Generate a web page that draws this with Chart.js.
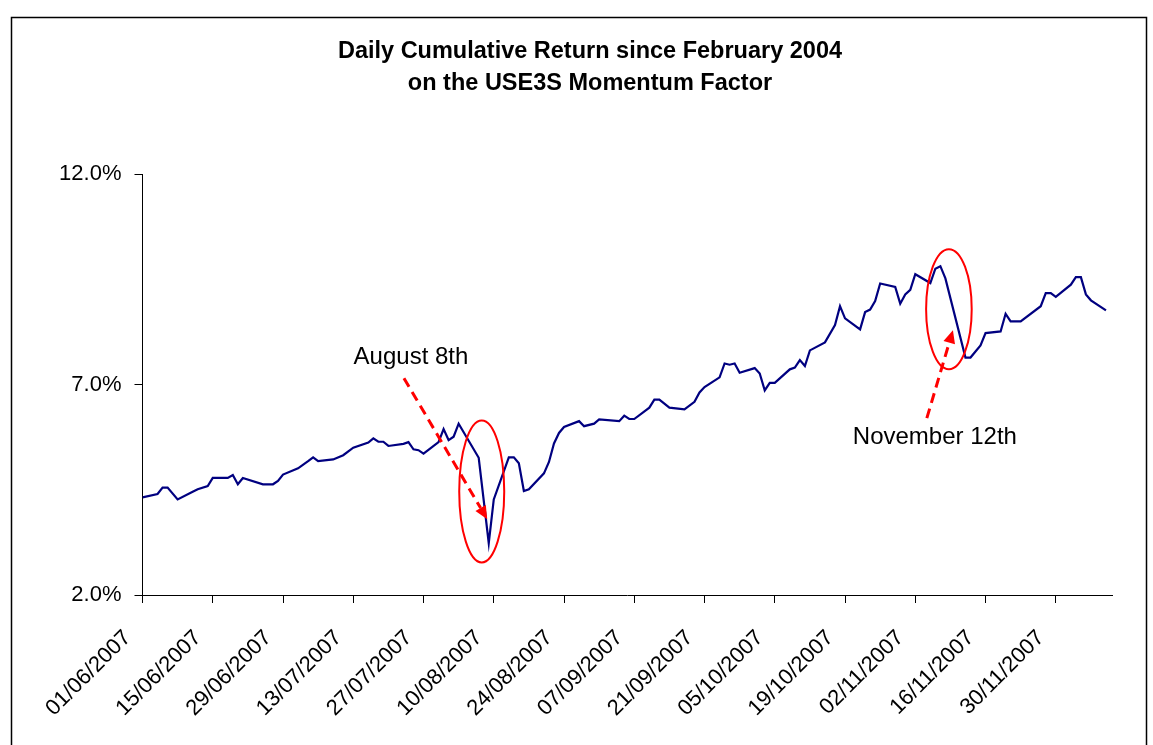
<!DOCTYPE html>
<html>
<head>
<meta charset="utf-8">
<script src="https://cdn.jsdelivr.net/npm/chart.js@4.4.1/dist/chart.umd.min.js"></script>
<style>
  html, body { margin: 0; padding: 0; background: #fff; }
  #wrap { width: 1153px; height: 745px; position: relative; }
</style>
</head>
<body>
<div id="wrap"><canvas id="c" width="1153" height="745"></canvas></div>
<script>
// ---- data (x = calendar days since 01/06/2007, y = cumulative return in %) ----
const startLabel = '01/06/2007';
const tickLabels = ['01/06/2007','15/06/2007','29/06/2007','13/07/2007','27/07/2007','10/08/2007','24/08/2007',
                    '07/09/2007','21/09/2007','05/10/2007','19/10/2007','02/11/2007','16/11/2007','30/11/2007'];
const dayOffsets = [0,3,4,5,7,10,11,13,14,17,18,19,20,24,26,27,28,31,33,34,35,38,40,42,45,46,47,48,49,
  52,53,54,55,56,59,60,61,62,63,67,69,70,73,74,75,76,77,80,81,82,83,84,87,88,90,91,95,96,97,98,
  101,102,103,105,108,110,111,112,115,116,117,118,119,122,123,124,125,126,129,130,131,132,133,
  136,138,139,140,143,144,145,146,147,150,151,152,153,154,157,158,159,160,164,165,167,168,
  171,172,173,175,179,180,181,182,185,186,187,188,189,192];
const cumReturn = [4.32,4.40,4.55,4.55,4.27,4.45,4.51,4.59,4.78,4.78,4.85,4.63,4.78,4.63,4.63,4.71,4.86,5.01,5.18,5.27,5.18,5.22,5.32,5.50,5.62,5.72,5.64,5.64,5.54,
  5.59,5.63,5.46,5.44,5.36,5.63,5.94,5.68,5.76,6.07,5.26,3.23,4.27,5.27,5.27,5.13,4.47,4.51,4.89,5.16,5.60,5.85,5.99,6.13,6.01,6.07,6.17,6.13,6.26,6.18,6.18,
  6.45,6.64,6.64,6.45,6.41,6.59,6.81,6.94,7.17,7.50,7.47,7.50,7.28,7.39,7.26,6.86,7.04,7.04,7.36,7.40,7.58,7.44,7.81,
  8.00,8.41,8.86,8.57,8.31,8.72,8.78,8.98,9.40,9.32,8.92,9.14,9.25,9.62,9.41,9.75,9.81,9.52,7.64,7.64,7.93,8.22,
  8.26,8.68,8.50,8.50,8.86,9.17,9.17,9.08,9.37,9.55,9.55,9.14,9.00,8.76];
const yTickValues = [2, 7, 12];
const titleLines = ['Daily Cumulative Return since February 2004', 'on the USE3S Momentum Factor'];
const callouts = [
  { text: 'August 8th',    textAt: [53.5, 7.65],  from: [52.1, 7.15], to: [68.7, 3.80], ellipse: [67.6, 4.46, 22.5, 71] },
  { text: 'November 12th', textAt: [157.9, 5.74], from: [156.3, 6.20], to: [161.5, 8.29], ellipse: [160.7, 8.79, 22.8, 60] }
];

const FONT = "'Liberation Sans', Arial, sans-serif";

const framePlugin = {
  id: 'frame',
  beforeDraw(chart) {
    const ctx = chart.ctx;
    ctx.save();
    ctx.fillStyle = '#fff';
    ctx.fillRect(0, 0, chart.width, chart.height);
    ctx.strokeStyle = '#000';
    ctx.lineWidth = 1.5;
    ctx.strokeRect(11.5, 17.5, 1135, 760);
    ctx.restore();
  },
  afterDraw(chart) {
    const ctx = chart.ctx;
    ctx.save();
    ctx.fillStyle = '#000';
    ctx.font = 'bold 23.5px ' + FONT;
    ctx.textAlign = 'center';
    ctx.textBaseline = 'middle';
    titleLines.forEach((t, i) => ctx.fillText(t, 590, 52 + i * 32));
    ctx.restore();
  }
};

const calloutPlugin = {
  id: 'callouts',
  afterDraw(chart) {
    const ctx = chart.ctx, xs = chart.scales.x, ys = chart.scales.y;
    ctx.save();
    callouts.forEach(c => {
      ctx.strokeStyle = '#FF0000';
      ctx.lineWidth = 2;
      ctx.setLineDash([]);
      ctx.beginPath();
      ctx.ellipse(xs.getPixelForValue(c.ellipse[0]), ys.getPixelForValue(c.ellipse[1]), c.ellipse[2], c.ellipse[3], 0, 0, Math.PI * 2);
      ctx.stroke();
      const x0 = xs.getPixelForValue(c.from[0]), y0 = ys.getPixelForValue(c.from[1]);
      const x1 = xs.getPixelForValue(c.to[0]),   y1 = ys.getPixelForValue(c.to[1]);
      const ang = Math.atan2(y1 - y0, x1 - x0);
      const headL = 13, headW = 6;
      const bx = x1 - headL * Math.cos(ang), by = y1 - headL * Math.sin(ang);
      ctx.lineWidth = 3;
      ctx.setLineDash([10, 6]);
      ctx.beginPath();
      ctx.moveTo(x0, y0);
      ctx.lineTo(bx, by);
      ctx.stroke();
      ctx.setLineDash([]);
      ctx.fillStyle = '#FF0000';
      ctx.beginPath();
      ctx.moveTo(x1, y1);
      ctx.lineTo(bx + headW * Math.sin(ang), by - headW * Math.cos(ang));
      ctx.lineTo(bx - headW * Math.sin(ang), by + headW * Math.cos(ang));
      ctx.closePath();
      ctx.fill();
      ctx.fillStyle = '#000';
      ctx.font = '24px ' + FONT;
      ctx.textAlign = 'center';
      ctx.textBaseline = 'middle';
      ctx.fillText(c.text, xs.getPixelForValue(c.textAt[0]), ys.getPixelForValue(c.textAt[1]));
    });
    ctx.restore();
  }
};

new Chart(document.getElementById('c'), {
  type: 'line',
  data: {
    datasets: [{
      data: dayOffsets.map((d, i) => ({ x: d, y: cumReturn[i] })),
      borderColor: '#000080',
      borderWidth: 2.2,
      pointRadius: 0,
      tension: 0,
      fill: false
    }]
  },
  options: {
    responsive: false,
    animation: false,
    devicePixelRatio: 1,
    layout: { padding: { left: 20, right: 40.5, top: 174, bottom: 0 } },
    plugins: {
      legend: { display: false },
      tooltip: { enabled: false },
      title: { display: false }
    },
    scales: {
      x: {
        type: 'linear',
        min: 0,
        max: 193.3,
        afterFit(s) { s.height = 150; },
        ticks: {
          stepSize: 14,
          includeBounds: false,
          autoSkip: false,
          minRotation: 45,
          maxRotation: 45,
          padding: 22,
          labelOffset: -15,
          color: '#000',
          font: { family: FONT, size: 22 },
          callback(v) { return tickLabels[Math.round(v / 14)]; }
        },
        grid: { drawOnChartArea: false, drawTicks: true, tickLength: 8, color: '#000', lineWidth: 1 },
        border: { display: true, color: '#000', width: 1 }
      },
      y: {
        type: 'linear',
        min: 2,
        max: 12,
        afterFit(s) { s.width = 122.5; },
        afterBuildTicks(s) { s.ticks = yTickValues.map(v => ({ value: v })); },
        ticks: {
          padding: 13,
          color: '#000',
          font: { family: FONT, size: 22 },
          callback(v) { return v.toFixed(1) + '%'; }
        },
        grid: { drawOnChartArea: false, drawTicks: true, tickLength: 8, color: '#000', lineWidth: 1 },
        border: { display: true, color: '#000', width: 1 }
      }
    }
  },
  plugins: [framePlugin, calloutPlugin]
});
</script>
</body>
</html>
